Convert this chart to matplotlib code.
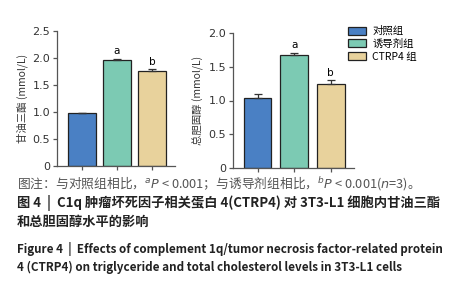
import matplotlib
matplotlib.use("Agg")
import matplotlib.pyplot as plt
from matplotlib.patches import Patch

plt.rcParams['font.family'] = ['Noto Sans CJK SC', 'DejaVu Sans']

groups = ["对照组", "诱导剂组", "CTRP4 组"]
colors = ["#4a80c4", "#7ccab3", "#e8d29c"]

tg_mean = [0.98, 1.96, 1.76]
tg_err = [0.01, 0.03, 0.03]
tg_marks = ["", "a", "b"]

tc_mean = [1.04, 1.68, 1.25]
tc_err = [0.05, 0.03, 0.05]
tc_marks = ["", "a", "b"]

fig = plt.figure(figsize=(4.61, 3.0), dpi=100)


def draw_panel(ax, means, errs, marks, ylim, yticks, ylabel, xlim, width):
    x = range(len(means))
    ax.bar(x, means, width=width, color=colors, edgecolor="#222222", linewidth=0.9)
    ax.errorbar(x, means, yerr=[[0] * len(errs), errs], fmt="none",
                ecolor="#333333", elinewidth=0.9, capsize=3, capthick=0.9)
    for xi, m, e, t in zip(x, means, errs, marks):
        if t:
            ax.text(xi, m + e + ylim[1] * 0.02, t, ha="center", va="bottom",
                    fontsize=7.5, family="DejaVu Sans")
    ax.set_ylim(*ylim)
    ax.set_xlim(*xlim)
    ax.set_yticks(yticks)
    ax.set_yticklabels([("0" if v == 0 else f"{v:.1f}") for v in yticks],
                       family="DejaVu Sans")
    ax.set_xticks(list(x))
    ax.set_xticklabels([])
    ax.set_ylabel(ylabel, fontsize=7.5, color="#333333", labelpad=3)
    for s in ["top", "right"]:
        ax.spines[s].set_visible(False)
    for s in ["left", "bottom"]:
        ax.spines[s].set_color("#555555")
        ax.spines[s].set_linewidth(0.9)
    ax.tick_params(axis="y", labelsize=8, length=3, width=0.9, color="#555555",
                   labelcolor="#333333", pad=2)
    ax.tick_params(axis="x", length=3, width=0.9, color="#555555")


ax1 = fig.add_axes([0.1236, 0.4467, 0.256, 0.45])
draw_panel(ax1, tg_mean, tg_err, tg_marks, (0, 2.5), [0, 0.5, 1.0, 1.5, 2.0, 2.5],
           "甘油三酯 (mmol/L)", (-0.71, 2.65), 0.79)

ax2 = fig.add_axes([0.5054, 0.44, 0.262, 0.45])
draw_panel(ax2, tc_mean, tc_err, tc_marks, (0, 2.0), [0, 0.5, 1.0, 1.5, 2.0],
           "总胆固醇 (mmol/L)", (-0.67, 2.63), 0.76)

handles = [Patch(facecolor=c, edgecolor="#222222", linewidth=0.9) for c in colors]
fig.legend(handles, groups, loc="upper left", bbox_to_anchor=(0.735, 0.945),
           frameon=False, fontsize=7.5, handlelength=1.7, handleheight=0.8,
           labelspacing=0.25, handletextpad=0.6)

fig.text(0.037, 0.39,
         "图注：与对照组相比，$^{a}$$\\it{P}$ < 0.001；与诱导剂组相比，$^{b}$$\\it{P}$ < 0.001($\\it{n}$=3)。",
         fontsize=9.2, color="#555555", va="center")
fig.text(0.037, 0.323,
         "图 4  |  C1q 肿瘤坏死因子相关蛋白 4(CTRP4) 对 3T3-L1 细胞内甘油三酯",
         fontsize=9.5, color="#222222", va="center", fontweight="bold")
fig.text(0.037, 0.26, "和总胆固醇水平的影响",
         fontsize=9.5, color="#222222", va="center", fontweight="bold")
fig.text(0.037, 0.17,
         "Figure 4  |  Effects of complement 1q/tumor necrosis factor-related protein",
         fontsize=8.4, color="#222222", va="center", fontweight="bold")
fig.text(0.037, 0.107,
         "4 (CTRP4) on triglyceride and total cholesterol levels in 3T3-L1 cells",
         fontsize=8.4, color="#222222", va="center", fontweight="bold")

fig.savefig("out.png", dpi=100)
